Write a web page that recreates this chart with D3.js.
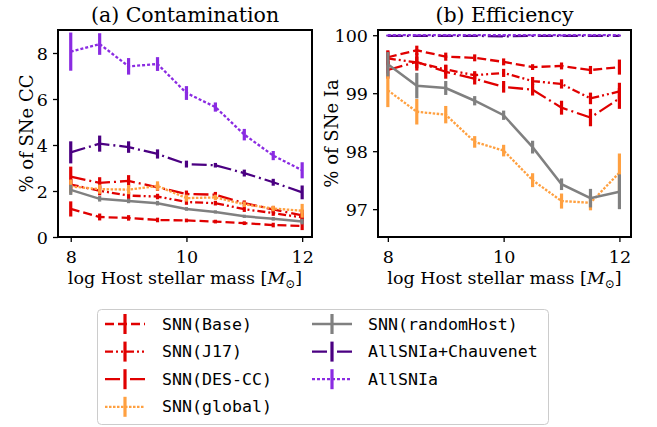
<!DOCTYPE html>
<html>
<head>
<meta charset="utf-8">
<script src="https://cdn.jsdelivr.net/npm/d3@7"></script>
<style>
body{margin:0;background:#fff;}
svg{display:block;}
</style>
</head>
<body>
<svg id="c" width="657" height="427"></svg>
<script>
// ---------- data ----------
const mass = [8, 8.5, 9, 9.5, 10, 10.5, 11, 11.5, 12];
const seriesNames = ["SNN(Base)", "SNN(J17)", "SNN(DES-CC)", "SNN(global)", "SNN(randomHost)", "AllSNIa+Chauvenet", "AllSNIa"];

// contamination (% of SNe CC)
const contBase   = [1.22, 0.87, 0.83, 0.74, 0.72, 0.67, 0.60, 0.52, 0.48];
const contJ17    = [2.28, 2.01, 1.80, 1.76, 1.52, 1.47, 1.21, 1.04, 0.85];
const contDESCC  = [2.63, 2.35, 2.44, 2.16, 1.87, 1.84, 1.47, 1.20, 0.94];
const contGlobal = [2.20, 2.08, 2.06, 2.22, 1.69, 1.72, 1.42, 1.24, 1.14];
const contRandom = [2.05, 1.66, 1.57, 1.47, 1.22, 1.09, 0.90, 0.79, 0.67];
const contChauv  = [3.68, 4.06, 3.91, 3.61, 3.17, 3.12, 2.78, 2.38, 1.94];
const contAll    = [8.06, 8.39, 7.42, 7.52, 6.26, 5.65, 4.45, 3.54, 2.90];

const contBaseErr   = [0.33, 0.15, 0.12, 0.10, 0.08, 0.08, 0.08, 0.10, 0.18];
const contJ17Err    = [0.25, 0.20, 0.15, 0.12, 0.12, 0.10, 0.12, 0.12, 0.20];
const contDESCCErr  = [0.43, 0.25, 0.25, 0.15, 0.15, 0.12, 0.12, 0.15, 0.25];
const contGlobalErr = [0.30, 0.20, 0.20, 0.20, 0.15, 0.12, 0.12, 0.12, 0.30];
const contRandomErr = [0.22, 0.12, 0.10, 0.10, 0.08, 0.07, 0.07, 0.08, 0.12];
const contChauvErr  = [0.48, 0.35, 0.25, 0.20, 0.15, 0.10, 0.15, 0.15, 0.30];
const contAllErr    = [0.83, 0.47, 0.36, 0.30, 0.30, 0.20, 0.25, 0.20, 0.35];

// efficiency (% of SNe Ia)
const effBase   = [99.62, 99.74, 99.63, 99.61, 99.54, 99.45, 99.47, 99.40, 99.45];
const effJ17    = [99.60, 99.53, 99.41, 99.31, 99.35, 99.21, 99.16, 98.91, 99.03];
const effDESCC  = [99.40, 99.54, 99.37, 99.25, 99.11, 99.06, 98.75, 98.58, 98.91];
const effGlobal = [99.05, 98.68, 98.63, 98.16, 98.01, 97.50, 97.14, 97.11, 97.63];
const effRandom = [99.50, 99.13, 99.09, 98.87, 98.62, 98.07, 97.43, 97.19, 97.30];
const effChauv  = [99.99, 99.99, 99.99, 99.99, 99.98, 99.99, 99.99, 99.99, 99.99];
const effAll    = [100.0, 100.0, 100.0, 100.0, 100.0, 100.0, 100.0, 100.0, 100.0];

const effBaseErr   = [0.12, 0.08, 0.07, 0.06, 0.06, 0.05, 0.06, 0.07, 0.13];
const effJ17Err    = [0.12, 0.10, 0.08, 0.07, 0.07, 0.07, 0.08, 0.10, 0.15];
const effDESCCErr  = [0.15, 0.15, 0.12, 0.10, 0.10, 0.10, 0.12, 0.15, 0.18];
const effGlobalErr = [0.29, 0.22, 0.15, 0.10, 0.10, 0.12, 0.13, 0.13, 0.33];
const effRandomErr = [0.21, 0.22, 0.12, 0.08, 0.08, 0.11, 0.10, 0.16, 0.30];
const effChauvErr  = [0.01, 0.01, 0.01, 0.01, 0.01, 0.01, 0.01, 0.01, 0.01];
const effAllErr    = [0.01, 0.01, 0.01, 0.01, 0.01, 0.01, 0.01, 0.01, 0.01];

const xTicks = [8, 10, 12];
const contTicks = [0, 2, 4, 6, 8];
const effTicks = [97, 98, 99, 100];

// ---------- styles ----------
const styles = [
  {color:"#e00000", dash:"9,4", lw:2.3},
  {color:"#e00000", dash:"8,3,2,3,2,3", lw:2.3},
  {color:"#e00000", dash:"15,4,2,4", lw:2.3},
  {color:"#ffa040", dash:"2.5,1.5", lw:2.3},
  {color:"#808080", dash:null, lw:2.5},
  {color:"#4b0082", dash:"15,4,2,4", lw:2.3},
  {color:"#8a2be2", dash:"3,2", lw:2.3}
];

const contVals = [contBase, contJ17, contDESCC, contGlobal, contRandom, contChauv, contAll];
const contErrs = [contBaseErr, contJ17Err, contDESCCErr, contGlobalErr, contRandomErr, contChauvErr, contAllErr];
const effVals = [effBase, effJ17, effDESCC, effGlobal, effRandom, effChauv, effAll];
const effErrs = [effBaseErr, effJ17Err, effDESCCErr, effGlobalErr, effRandomErr, effChauvErr, effAllErr];

const svg = d3.select("#c");
const serif = "DejaVu Serif";

function panel(cfg){
  const x = d3.scaleLinear().domain(cfg.xdom).range([cfg.left, cfg.right]);
  const y = d3.scaleLinear().domain(cfg.ydom).range([cfg.bottom, cfg.top]);
  const g = svg.append("g");
  const clipId = "clip" + cfg.id;
  svg.append("clipPath").attr("id", clipId).append("rect")
    .attr("x", cfg.left).attr("y", cfg.top).attr("width", cfg.right-cfg.left).attr("height", cfg.bottom-cfg.top);
  const plot = g.append("g").attr("clip-path", `url(#${clipId})`);

  cfg.vals.forEach((vals, i) => {
    const st = styles[i];
    const sg = plot.append("g");
    sg.selectAll("line.err").data(mass).join("line")
      .attr("x1", d => x(d)).attr("x2", d => x(d))
      .attr("y1", (d,j) => y(vals[j] - cfg.errs[i][j]))
      .attr("y2", (d,j) => y(vals[j] + cfg.errs[i][j]))
      .attr("stroke", st.color).attr("stroke-width", 3.2);
    const line = d3.line().x((d,j) => x(mass[j])).y(d => y(d));
    sg.append("path").attr("d", line(vals))
      .attr("fill", "none").attr("stroke", st.color).attr("stroke-width", st.lw)
      .attr("stroke-dasharray", st.dash);
  });

  const ax = g.append("g").attr("transform", `translate(0,${cfg.bottom})`)
    .call(d3.axisBottom(x).tickValues(xTicks).tickSize(5).tickPadding(4).tickFormat(d3.format("d")));
  const ay = g.append("g").attr("transform", `translate(${cfg.left},0)`)
    .call(d3.axisLeft(y).tickValues(cfg.yticks).tickSize(5).tickPadding(5).tickFormat(d3.format("d")));
  [ax, ay].forEach(a => {
    a.select(".domain").remove();
    a.selectAll(".tick line").attr("stroke", "#000").attr("stroke-width", 1.3);
    a.selectAll(".tick text").attr("font-family", serif).attr("font-size", 17.5).attr("fill", "#000");
  });
  ax.selectAll(".tick text").attr("dy", "0.95em");
  ay.selectAll(".tick text").attr("dy", "0.36em");

  g.append("rect").attr("x", cfg.left).attr("y", cfg.top)
    .attr("width", cfg.right-cfg.left).attr("height", cfg.bottom-cfg.top)
    .attr("fill", "none").attr("stroke", "#000").attr("stroke-width", 2);

  const cx = (cfg.left + cfg.right)/2;
  g.append("text").attr("x", cx).attr("y", 22).attr("text-anchor", "middle")
    .attr("font-family", serif).attr("font-size", 20.5).text(cfg.title);

  const xl = g.append("text").attr("x", cx).attr("y", 283.5).attr("text-anchor", "middle")
    .attr("font-family", serif).attr("font-size", 17.5);
  xl.append("tspan").text("log Host stellar mass [");
  xl.append("tspan").attr("font-style", "italic").text("M");
  xl.append("tspan").attr("font-size", 12).attr("dy", 4).text("\u2299");
  xl.append("tspan").attr("dy", -4).text("]");

  g.append("text").attr("transform", `translate(${cfg.ylabX},${(cfg.top+cfg.bottom)/2}) rotate(-90)`)
    .attr("text-anchor", "middle").attr("font-family", serif).attr("font-size", 18).text(cfg.ylabel);
}

panel({id:"a", xdom:[7.78, 12.17], ydom:[0, 9], left:58, right:312, top:30, bottom:237,
  vals:contVals, errs:contErrs, yticks:contTicks, title:"(a) Contamination", ylabel:"% of SNe CC", ylabX:33});
panel({id:"b", xdom:[7.83, 12.2], ydom:[96.52, 100.09], left:378, right:631, top:30, bottom:237,
  vals:effVals, errs:effErrs, yticks:effTicks, title:"(b) Efficiency", ylabel:"% of SNe Ia", ylabX:338});

// ---------- legend ----------
const lg = svg.append("g");
lg.append("rect").attr("x", 97.5).attr("y", 309.5).attr("width", 451).attr("height", 115).attr("rx", 4)
  .attr("fill", "#fff").attr("stroke", "#cccccc").attr("stroke-width", 1);
const legPos = seriesNames.map((n, i) => i < 4
  ? {hx:105, tx:162, y:324 + i*27.6}
  : {hx:312, tx:368, y:324 + (i-4)*27.6});
seriesNames.forEach((name, i) => {
  const p = legPos[i], st = styles[i];
  lg.append("line").attr("x1", p.hx).attr("x2", p.hx+40).attr("y1", p.y).attr("y2", p.y)
    .attr("stroke", st.color).attr("stroke-width", st.lw).attr("stroke-dasharray", st.dash);
  lg.append("line").attr("x1", p.hx+20).attr("x2", p.hx+20).attr("y1", p.y-10).attr("y2", p.y+10)
    .attr("stroke", st.color).attr("stroke-width", 3.2);
  lg.append("text").attr("x", p.tx).attr("y", p.y + 5.5)
    .attr("font-family", "DejaVu Sans Mono").attr("font-size", 16.6).text(name);
});
</script>
</body>
</html>
